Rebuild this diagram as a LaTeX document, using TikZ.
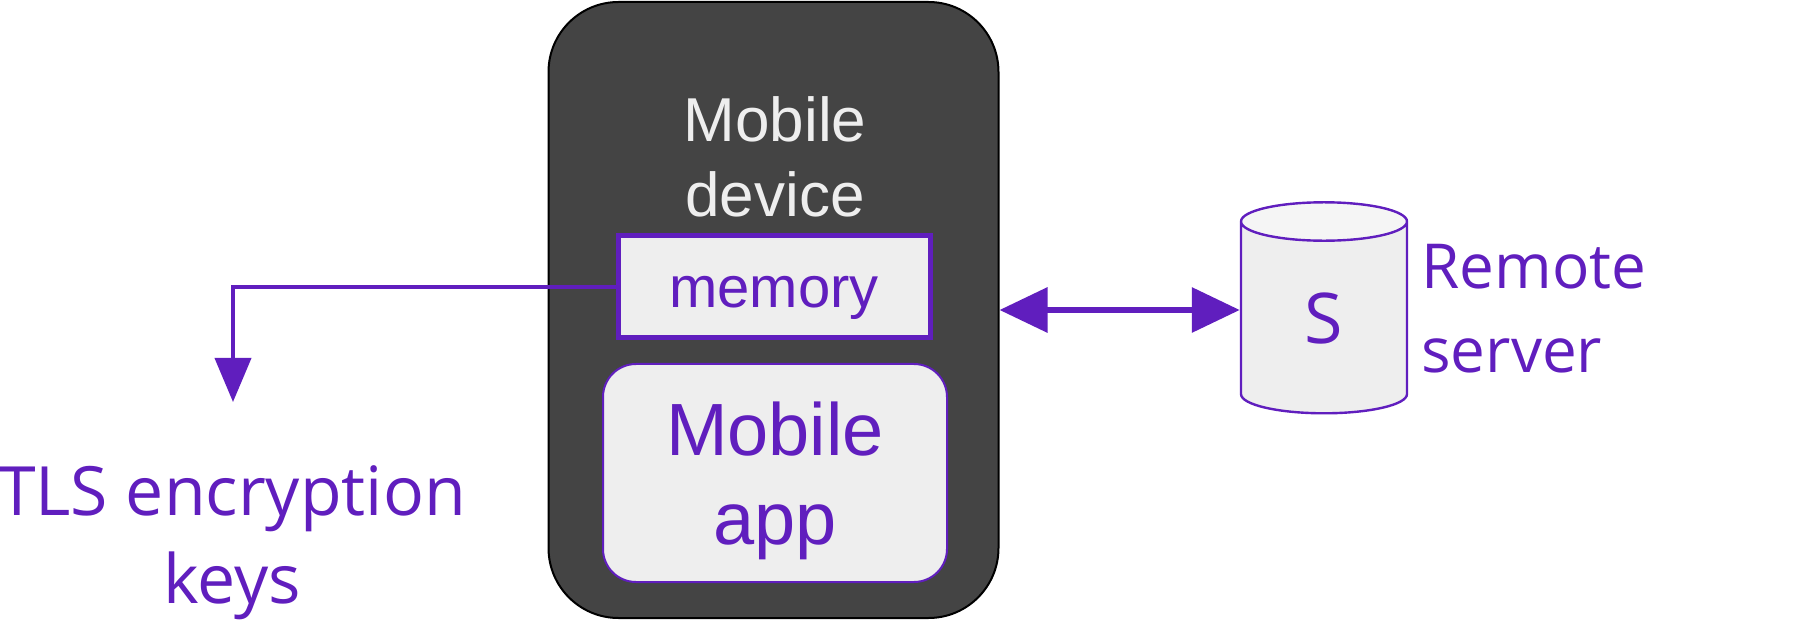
\documentclass[tikz,border=0pt]{standalone}
\usepackage{fontspec}
\setmainfont{Liberation Sans}
\newfontfamily\labelfont{Open Sans}
\usetikzlibrary{positioning, shapes.geometric, arrows.meta}
\definecolor{purp}{RGB}{96,30,190}
\definecolor{gra}{RGB}{238,238,238}
\definecolor{dark}{RGB}{68,68,68}
\tikzset{
    devicenode/.style = {draw=black, line width=1pt, fill=dark, rectangle, rounded corners=35pt,
      minimum width=225pt, minimum height=308pt},
    titlenode/.style = {align=center, text=gra, inner sep=0pt, font=\fontsize{31}{37.5}\selectfont},
    memorynode/.style = {draw=purp, line width=2.5pt, fill=gra, rectangle, minimum width=156pt,
      minimum height=51pt, text height=21pt, text depth=0pt, text=purp, font=\fontsize{29}{34}\selectfont},
    appnode/.style = {draw=purp, line width=1pt, fill=gra, rectangle, rounded corners=16.5pt,
      minimum width=172pt, minimum height=109pt, align=center, text=purp, font=\fontsize{37}{44.5}\selectfont},
    servernode/.style = {draw=purp, line width=1.2pt, cylinder, shape border rotate=90, aspect=1,
      cylinder uses custom fill, cylinder body fill=gra, cylinder end fill=gra!60!white,
      minimum width=83pt, minimum height=105.5pt, inner sep=0pt, text=purp, font=\labelfont\fontsize{35}{40}\selectfont},
    textnode/.style = {align=center, text=purp, inner sep=0pt, font=\labelfont\fontsize{34}{44}\selectfont},
    connect/.style = {purp, line width=2pt, -{Triangle[width=18pt, length=22pt]}},
    biconnect/.style = {purp, line width=3.2pt, {Triangle[width=22pt, length=24pt]}-{Triangle[width=22pt, length=24pt]}}
}
\begin{document}
\begin{tikzpicture}[x=0.5pt, y=-0.5pt]
\useasboundingbox (0,0) rectangle (1800,620);
\node[devicenode, name=device] at (773.5,310) {};
\node[titlenode, name=title, anchor=base] at (775,217) {Mobile\\device};
\node[memorynode, name=memory] at (774,287) {memory};
\node[appnode, name=app, text depth=0pt] at (775,473) {Mobile\\app};

\node[servernode, name=server] at (1324,318) {S};
\node[textnode, name=remote, anchor=base west, align=left, font=\labelfont\fontsize{31}{42}\selectfont]
  at (1421,372) {Remote\\server};

\coordinate (keystip) at (233,402);
\node[textnode, name=keys, anchor=base] at (232,603) {TLS encryption\\keys};

\draw[connect] (memory.west) -| (keystip);
\draw[biconnect] (device.east) -- (device.east -| server.180);
\end{tikzpicture}
\end{document}
